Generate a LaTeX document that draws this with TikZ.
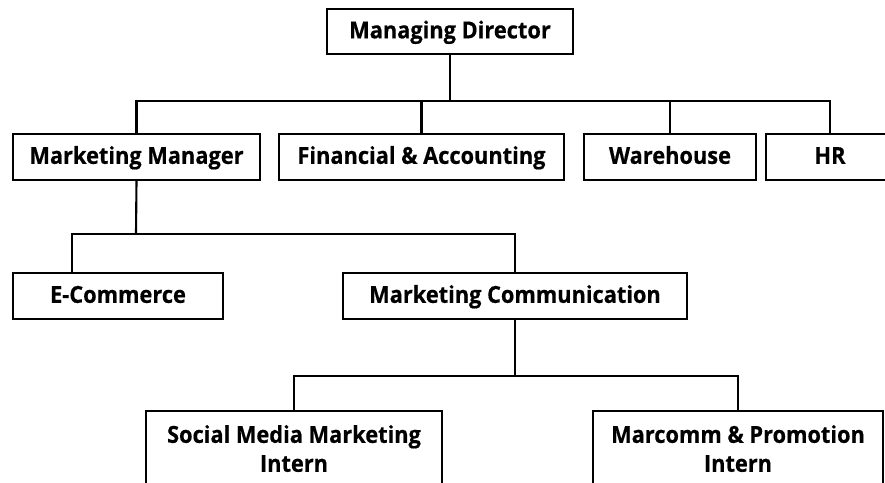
\documentclass[tikz,border=0pt]{standalone}
\usepackage{fontspec}
\newfontfamily\chartfont{Open Sans}[FakeStretch=0.93, FakeBold=0.5]
\usetikzlibrary{positioning}

\begin{document}
\begin{tikzpicture}[x=0.03cm, y=-0.03cm,
    unit/.style={draw, line width=1.8pt, font=\chartfont\bfseries\fontsize{20}{24.7}\selectfont,
        minimum height=1.38cm, inner sep=0pt, text height=14pt, text depth=2.3pt},
    intern/.style={draw, line width=1.8pt, font=\chartfont\bfseries\fontsize{20}{24.7}\selectfont,
        align=center, inner xsep=0pt, inner ysep=0.42cm, anchor=north},
    link/.style={line width=1.8pt}]
    \clip (0,0) rectangle (885,483);
    % Nodes
    \node[unit, minimum width=7.38cm, minimum height=1.35cm] (director) at (450,31.5) {Managing Director};
    \node[unit, minimum width=7.41cm] (marketing) at (136.5,157) {Marketing Manager};
    \node[unit, minimum width=8.55cm] (finance) at (421.5,157) {Financial \& Accounting};
    \node[unit, minimum width=5.16cm] (warehouse) at (670,157) {Warehouse};
    \node[unit, minimum width=3.84cm] (hr) at (830,157) {HR};
    \node[unit, minimum width=6.3cm] (ecommerce) at (118,296) {E-Commerce};
    \node[unit, minimum width=10.32cm] (marcomm) at (515,296) {Marketing Communication};
    \node[intern, minimum width=8.88cm] (social) at (294,410) {Social Media Marketing\\Intern};
    \node[intern, minimum width=8.7cm] (promotion) at (738,410) {Marcomm \& Promotion\\Intern};
    % Connectors
    \coordinate (bar1) at (450,101);
    \draw[link] (director.south) -- (bar1);
    \draw[link] (marketing.north) |- (bar1) -| (hr.north);
    \draw[link] (finance.north) -- (finance.north |- bar1);
    \draw[link] (warehouse.north) -- (warehouse.north |- bar1);
    \coordinate (bar2) at (136,234);
    \draw[link] (marketing.south) -- (bar2);
    \draw[link] ([xshift=-1.38cm]ecommerce.north) |- (bar2) -| (marcomm.north);
    \coordinate (bar3) at (515,376);
    \draw[link] (marcomm.south) -- (bar3);
    \draw[link] (social.north) |- (bar3) -| (promotion.north);
\end{tikzpicture}
\end{document}
